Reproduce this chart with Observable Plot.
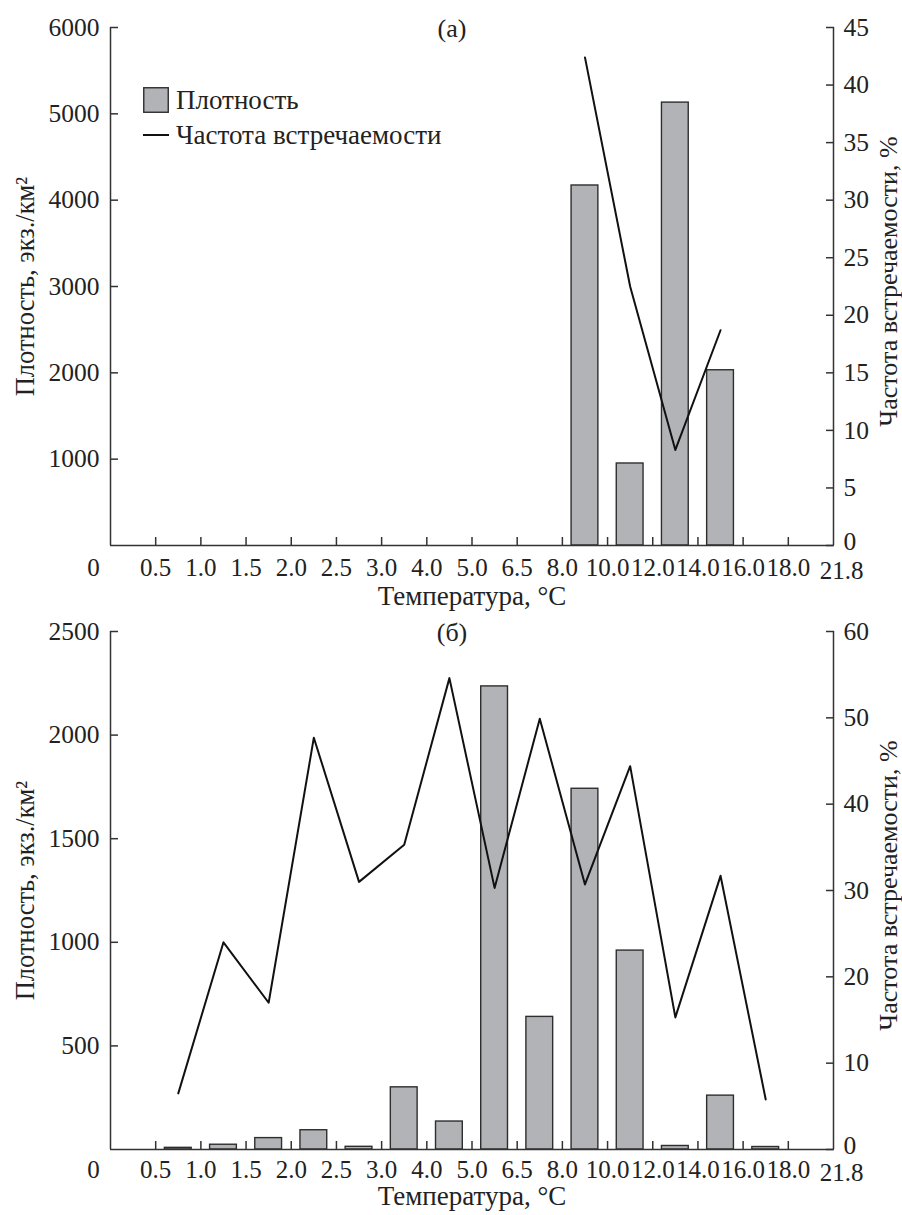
<!DOCTYPE html>
<html><head><meta charset="utf-8">
<script src="https://cdn.jsdelivr.net/npm/d3@7"></script>
<script src="https://cdn.jsdelivr.net/npm/@observablehq/plot@0.6"></script>
<style>
body{margin:0;background:#fff;}
#wrap{position:relative;width:902px;height:1215px;font-family:"Liberation Serif","Tinos","Times New Roman","DejaVu Serif",serif;color:#222;}
#wrap svg{display:block;font-family:"Liberation Serif","Tinos","Times New Roman","DejaVu Serif",serif !important;}
#wrap svg text, #wrap svg g{font-family:"Liberation Serif","Tinos","Times New Roman","DejaVu Serif",serif !important;}
.legend{position:absolute;left:143px;font-size:27px;line-height:26px;display:flex;align-items:center;white-space:nowrap;}
.legend svg{margin-right:7px;}
</style></head><body><div id="wrap"></div>
<script>
// bin boundary labels (temperature classes, °C)
const binLabels = ["0","0.5","1.0","1.5","2.0","2.5","3.0","4.0","5.0","6.5","8.0","10.0","12.0","14.0","16.0","18.0","21.8"];
// panel (а)
const binsA = [10, 11, 12, 13];
const densityA = [4170, 950, 5130, 2030];
const freqA = [42.4, 22.5, 8.3, 18.7];
const densTicksA = [1000, 2000, 3000, 4000, 5000, 6000];
const freqTicksA = [0, 5, 10, 15, 20, 25, 30, 35, 40, 45];
// panel (б)
const binsB = [1, 2, 3, 4, 5, 6, 7, 8, 9, 10, 11, 12, 13, 14];
const densityB = [8, 23, 55, 93, 13, 300, 135, 2235, 640, 1741, 960, 17, 260, 12];
const freqB = [6.5, 24, 17, 47.7, 31, 35.3, 54.6, 30.3, 49.9, 30.7, 44.4, 15.3, 31.7, 5.8];
const densTicksB = [500, 1000, 1500, 2000, 2500];
const freqTicksB = [0, 10, 20, 30, 40, 50, 60];

const FONT = "Liberation Serif, serif";
const AX = "#333";
const TXT = "#222";

function panel({bins, dens, freq, yMax, rMax, yTicks, rTicks, title, height, mt, mb, labDy, titleDy}) {
  const k = yMax / rMax;
  const rows = bins.map((b, i) => ({lo: b, hi: b + 1, mid: b + 0.5, d: dens[i], f: freq[i] * k}));
  const lastIdx = binLabels.length - 1;
  const mid = d3.range(1, lastIdx);
  const T = {fontSize: 25, fill: TXT, lineAnchor: "middle"};
  const rPos = rTicks.filter(v => v > 0).map(v => v * k);
  return Plot.plot({
    width: 902, height,
    marginLeft: 110, marginRight: 69, marginTop: mt, marginBottom: mb,
    style: {fontFamily: FONT, fontSize: "25px", color: TXT, background: "white", overflow: "visible"},
    x: {domain: [0, lastIdx], axis: null},
    y: {domain: [0, yMax], axis: null},
    marks: [
      Plot.rectY(rows, {x1: "lo", x2: "hi", y: "d", insetLeft: 9.2, insetRight: 9.2, fill: "#b2b3b7", stroke: "#2e2e2e", strokeWidth: 1.4}),
      Plot.line(rows, {x: "mid", y: "f", stroke: "#111", strokeWidth: 2}),
      Plot.ruleX([0, lastIdx], {stroke: AX, strokeWidth: 1.5}),
      Plot.ruleY([0], {stroke: AX, strokeWidth: 1.5}),
      Plot.axisX({ticks: mid, tickSize: 8, dy: -8, fill: "none", stroke: AX, strokeWidth: 1.5}),
      Plot.axisY({ticks: yTicks, anchor: "left", tickSize: 8, dx: 8, fill: "none", stroke: AX, strokeWidth: 1.5}),
      Plot.axisY({ticks: yTicks, anchor: "left", tickSize: 0, tickPadding: 11, label: null, fontSize: 25.5, fill: TXT, tickFormat: v => String(v)}),
      Plot.axisY({ticks: rTicks.map(v => v * k), anchor: "right", tickSize: 8, dx: -8, fill: "none", stroke: AX, strokeWidth: 1.5}),
      Plot.axisY({ticks: rPos, anchor: "right", tickSize: 0, tickPadding: 10, label: null, fontSize: 25.5, fill: TXT, tickFormat: v => String(Math.round(v / k))}),
      Plot.axisY({ticks: [0], anchor: "right", tickSize: 0, tickPadding: 10, dy: -4, label: null, fontSize: 25.5, fill: TXT, tickFormat: v => String(Math.round(v / k))}),
      Plot.text(mid, {x: d => d, text: d => binLabels[d], frameAnchor: "bottom", dy: labDy, ...T}),
      Plot.text([0], {x: d => d, text: d => binLabels[d], frameAnchor: "bottom", dy: labDy, dx: -17, ...T}),
      Plot.text([lastIdx], {x: d => d, text: d => binLabels[d], frameAnchor: "bottom", dy: labDy + 3, dx: 8, ...T}),
      Plot.text(["Температура, °С"], {frameAnchor: "bottom", dy: titleDy, ...T, fontSize: 27}),
      Plot.text(["Плотность, экз./км²"], {frameAnchor: "left", rotate: -90, dx: -85, textAnchor: "middle", ...T, fontSize: 26.5}),
      Plot.text(["Частота встречаемости, %"], {frameAnchor: "right", rotate: -90, dx: 55, dy: -5, textAnchor: "middle", ...T, fontSize: 26}),
      Plot.text([title], {frameAnchor: "top", dx: -20, dy: 1, ...T, fontSize: 26})
    ]
  });
}

const wrap = document.getElementById("wrap");
wrap.append(panel({bins: binsA, dens: densityA, freq: freqA, yMax: 6000, rMax: 45, yTicks: densTicksA, rTicks: freqTicksA,
  title: "(а)", height: 610, mt: 27, mb: 65, labDy: 22, titleDy: 51}));
wrap.append(panel({bins: binsB, dens: densityB, freq: freqB, yMax: 2500, rMax: 60, yTicks: densTicksB, rTicks: freqTicksB,
  title: "(б)", height: 605, mt: 21, mb: 66, labDy: 20, titleDy: 47}));

// legend (panel а)
const legendItems = [
  {name: "Плотность", kind: "bar", top: 87},
  {name: "Частота встречаемости", kind: "line", top: 122}
];
for (const it of legendItems) {
  const div = document.createElement("div");
  div.className = "legend";
  div.style.top = it.top + "px";
  const sw = it.kind === "bar"
    ? '<svg width="26" height="26"><rect x="0.75" y="0.75" width="24.5" height="24.5" fill="#b2b3b7" stroke="#2e2e2e" stroke-width="1.4"/></svg>'
    : '<svg width="26" height="26"><line x1="0" x2="26" y1="13" y2="13" stroke="#111" stroke-width="2"/></svg>';
  div.innerHTML = sw + "<span>" + it.name + "</span>";
  wrap.append(div);
}
</script>
</body></html>
